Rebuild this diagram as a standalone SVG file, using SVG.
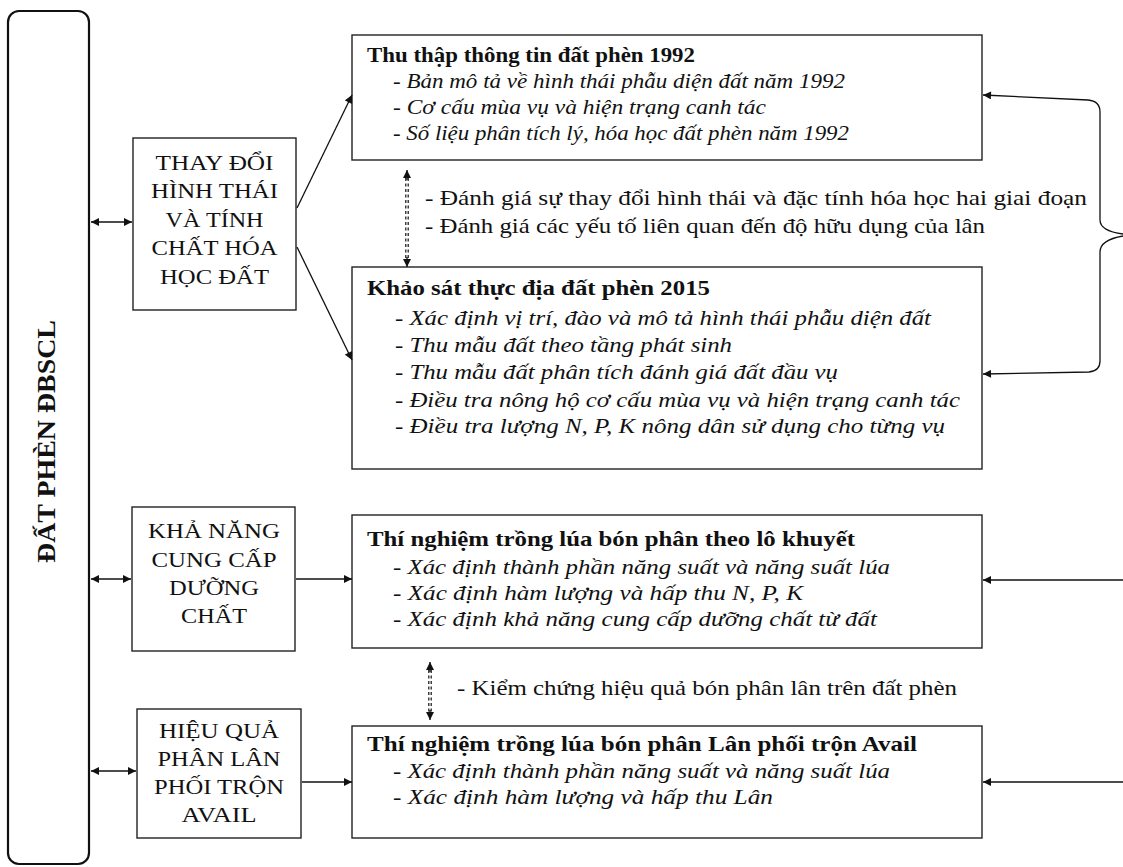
<svg xmlns="http://www.w3.org/2000/svg" width="1123" height="867" viewBox="0 0 1123 867">
<defs>
<style>
.box{fill:#fff;stroke:#222;stroke-width:1.4}
.big{fill:#fff;stroke:#111;stroke-width:2.2}
.ln{fill:none;stroke:#111;stroke-width:1.3}
.dot{fill:none;stroke:#111;stroke-width:1.2;stroke-dasharray:3 2.5}
.t{font-family:"Liberation Serif","Times New Roman",serif;fill:#111}
.tb{font-family:"Liberation Serif","Times New Roman",serif;font-weight:bold;font-size:21px;fill:#111}
.ti{font-family:"Liberation Serif","Times New Roman",serif;font-style:italic;font-size:21px;fill:#111}
.tr{font-family:"Liberation Serif","Times New Roman",serif;font-size:21px;fill:#111}
.tc{font-family:"Liberation Serif","Times New Roman",serif;font-size:22px;fill:#111;text-anchor:middle}
</style>
<marker id="ah" viewBox="0 0 10 10" refX="10" refY="5" markerWidth="9" markerHeight="8" orient="auto-start-reverse" markerUnits="userSpaceOnUse"><path d="M0,0 L10,5 L0,10 z" fill="#111"/></marker>
</defs>
<rect width="1123" height="867" fill="#fff"/>

<g id="root">
<rect class="big" x="8" y="11" width="81" height="853" rx="11"/>
<text class="t" x="55" y="441.5" font-size="26" font-weight="bold" text-anchor="middle" transform="rotate(-90 55 441.5)" textLength="243" lengthAdjust="spacingAndGlyphs">ĐẤT PHÈN ĐBSCL</text>
</g>

<g id="nodeA">
<rect class="box" x="133" y="138" width="163" height="172"/>
<text class="tc" x="214.5" y="170" textLength="118" lengthAdjust="spacingAndGlyphs">THAY ĐỔI</text>
<text class="tc" x="214.5" y="198" textLength="127" lengthAdjust="spacingAndGlyphs">HÌNH THÁI</text>
<text class="tc" x="214.5" y="227" textLength="98" lengthAdjust="spacingAndGlyphs">VÀ TÍNH</text>
<text class="tc" x="214.5" y="255" textLength="126" lengthAdjust="spacingAndGlyphs">CHẤT HÓA</text>
<text class="tc" x="214.5" y="284" textLength="109" lengthAdjust="spacingAndGlyphs">HỌC ĐẤT</text>
</g>

<g id="nodeB">
<rect class="box" x="132" y="507" width="163" height="144"/>
<text class="tc" x="214" y="538" textLength="132" lengthAdjust="spacingAndGlyphs">KHẢ NĂNG</text>
<text class="tc" x="214" y="567" textLength="125" lengthAdjust="spacingAndGlyphs">CUNG CẤP</text>
<text class="tc" x="214" y="595" textLength="90" lengthAdjust="spacingAndGlyphs">DƯỠNG</text>
<text class="tc" x="214" y="623" textLength="66" lengthAdjust="spacingAndGlyphs">CHẤT</text>
</g>

<g id="nodeC">
<rect class="box" x="137" y="709" width="164" height="129"/>
<text class="tc" x="219" y="738" textLength="120" lengthAdjust="spacingAndGlyphs">HIỆU QUẢ</text>
<text class="tc" x="219" y="766" textLength="123" lengthAdjust="spacingAndGlyphs">PHÂN LÂN</text>
<text class="tc" x="219" y="794" textLength="130" lengthAdjust="spacingAndGlyphs">PHỐI TRỘN</text>
<text class="tc" x="219" y="822" textLength="75" lengthAdjust="spacingAndGlyphs">AVAIL</text>
</g>

<g id="box1">
<rect class="box" x="352" y="35" width="630" height="125"/>
<text class="tb" x="367" y="62" textLength="328" lengthAdjust="spacingAndGlyphs">Thu thập thông tin đất phèn 1992</text>
<text class="ti" x="393" y="88" textLength="452" lengthAdjust="spacingAndGlyphs">- Bản mô tả về hình thái phẫu diện đất năm 1992</text>
<text class="ti" x="393" y="114" textLength="373" lengthAdjust="spacingAndGlyphs">- Cơ cấu mùa vụ và hiện trạng canh tác</text>
<text class="ti" x="393" y="140" textLength="456" lengthAdjust="spacingAndGlyphs">- Số liệu phân tích lý, hóa học đất phèn năm 1992</text>
</g>

<g id="box2">
<rect class="box" x="352" y="267" width="630" height="202"/>
<text class="tb" x="367" y="295" textLength="343" lengthAdjust="spacingAndGlyphs">Khảo sát thực địa đất phèn 2015</text>
<text class="ti" x="395" y="325" textLength="536" lengthAdjust="spacingAndGlyphs">- Xác định vị trí, đào và mô tả hình thái phẫu diện đất</text>
<text class="ti" x="395" y="352" textLength="337" lengthAdjust="spacingAndGlyphs">- Thu mẫu đất theo tầng phát sinh</text>
<text class="ti" x="395" y="379" textLength="443" lengthAdjust="spacingAndGlyphs">- Thu mẫu đất phân tích đánh giá đất đầu vụ</text>
<text class="ti" x="395" y="407" textLength="565" lengthAdjust="spacingAndGlyphs">- Điều tra nông hộ cơ cấu mùa vụ và hiện trạng canh tác</text>
<text class="ti" x="395" y="433" textLength="550" lengthAdjust="spacingAndGlyphs">- Điều tra lượng N, P, K nông dân sử dụng cho từng vụ</text>
</g>

<g id="box3">
<rect class="box" x="352" y="515" width="630" height="133"/>
<text class="tb" x="367" y="546" textLength="488" lengthAdjust="spacingAndGlyphs">Thí nghiệm trồng lúa bón phân theo lô khuyết</text>
<text class="ti" x="393" y="574" textLength="497" lengthAdjust="spacingAndGlyphs">- Xác định thành phần năng suất và năng suất lúa</text>
<text class="ti" x="393" y="600" textLength="410" lengthAdjust="spacingAndGlyphs">- Xác định hàm lượng và hấp thu N, P, K</text>
<text class="ti" x="393" y="626" textLength="484" lengthAdjust="spacingAndGlyphs">- Xác định khả năng cung cấp dưỡng chất từ đất</text>
</g>

<g id="box4">
<rect class="box" x="352" y="726" width="630" height="112"/>
<text class="tb" x="367" y="751" textLength="550" lengthAdjust="spacingAndGlyphs">Thí nghiệm trồng lúa bón phân Lân phối trộn Avail</text>
<text class="ti" x="393" y="778" textLength="497" lengthAdjust="spacingAndGlyphs">- Xác định thành phần năng suất và năng suất lúa</text>
<text class="ti" x="393" y="804" textLength="380" lengthAdjust="spacingAndGlyphs">- Xác định hàm lượng và hấp thu Lân</text>
</g>

<g id="label1">
<text class="tr" x="425" y="205" textLength="662" lengthAdjust="spacingAndGlyphs">- Đánh giá sự thay đổi hình thái và đặc tính hóa học hai giai đoạn</text>
<text class="tr" x="425" y="233" textLength="560" lengthAdjust="spacingAndGlyphs">- Đánh giá các yếu tố liên quan đến độ hữu dụng của lân</text>
</g>
<g id="label2">
<text class="tr" x="457" y="695" textLength="500" lengthAdjust="spacingAndGlyphs">- Kiểm chứng hiệu quả bón phân lân trên đất phèn</text>
</g>

<g id="connectors">
<line class="ln" x1="91" y1="222" x2="132" y2="222" marker-start="url(#ah)" marker-end="url(#ah)"/>
<line class="ln" x1="91" y1="579" x2="131" y2="579" marker-start="url(#ah)" marker-end="url(#ah)"/>
<line class="ln" x1="91" y1="771" x2="136" y2="771" marker-start="url(#ah)" marker-end="url(#ah)"/>
<line class="ln" x1="297" y1="208" x2="352" y2="95" marker-end="url(#ah)"/>
<line class="ln" x1="297" y1="247" x2="352" y2="360" marker-end="url(#ah)"/>
<line class="ln" x1="296" y1="579" x2="352" y2="579" marker-end="url(#ah)"/>
<line class="ln" x1="302" y1="782" x2="352" y2="782" marker-end="url(#ah)"/>
<line class="ln" x1="1123" y1="580" x2="983" y2="580" marker-end="url(#ah)"/>
<line class="ln" x1="1123" y1="782" x2="983" y2="782" marker-end="url(#ah)"/>
<path class="ln" d="M1123 234 Q1100 231 1100 220 L1100 112 Q1100 101 1088 100 L983 95" marker-end="url(#ah)"/>
<path class="ln" d="M1123 236 Q1100 240 1100 252 L1100 361 Q1100 371 1089 372 L983 374" marker-end="url(#ah)"/>
<g>
<line class="dot" x1="405.8" y1="178" x2="405.8" y2="259"/>
<line class="dot" x1="408.2" y1="178" x2="408.2" y2="259"/>
<line class="ln" x1="407" y1="180" x2="407" y2="170" marker-end="url(#ah)"/>
<line class="ln" x1="407" y1="257" x2="407" y2="267" marker-end="url(#ah)"/>
</g>
<g>
<line class="dot" x1="428.8" y1="670" x2="428.8" y2="712"/>
<line class="dot" x1="431.2" y1="670" x2="431.2" y2="712"/>
<line class="ln" x1="430" y1="672" x2="430" y2="662" marker-end="url(#ah)"/>
<line class="ln" x1="430" y1="710" x2="430" y2="720" marker-end="url(#ah)"/>
</g>
</g>
</svg>
